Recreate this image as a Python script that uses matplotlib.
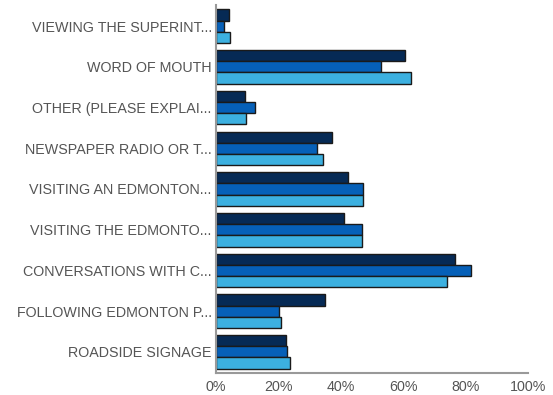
import matplotlib
matplotlib.use("Agg")
import matplotlib.pyplot as plt
import numpy as np

categories = [
    "VIEWING THE SUPERINT...",
    "WORD OF MOUTH",
    "OTHER (PLEASE EXPLAI...",
    "NEWSPAPER RADIO OR T...",
    "VISITING AN EDMONTON...",
    "VISITING THE EDMONTO...",
    "CONVERSATIONS WITH C...",
    "FOLLOWING EDMONTON P...",
    "ROADSIDE SIGNAGE",
]
series_dark = [4.1, 60.6, 9.3, 37.2, 42.3, 40.9, 76.6, 34.9, 22.3]
series_mid = [2.6, 52.9, 12.5, 32.5, 47.0, 46.9, 81.7, 20.3, 22.6]
series_light = [4.4, 62.4, 9.5, 34.3, 47.0, 46.9, 74.0, 20.8, 23.7]
xticks = [0, 20, 40, 60, 80, 100]
xticklabels = ["0%", "20%", "40%", "60%", "80%", "100%"]

colors = ["#062a55", "#0660b8", "#3cb0e0"]

fig = plt.figure(figsize=(5.53, 3.95), dpi=100)
ax = fig.add_axes([216/553, 1 - 373/395, (528-216)/553, (373-5)/395])

n = len(categories)
y = np.arange(n)
h = 0.275
for i, (vals, c) in enumerate(zip([series_dark, series_mid, series_light], colors)):
    ax.barh(y + (i - 1) * h, vals, height=h, color=c, edgecolor="#1a1a1a",
            linewidth=1.0)

ax.set_xlim(0, 100)
ax.set_ylim(n - 0.5 + 0.02, -0.5 - 0.02)
ax.set_yticks(y)
ax.set_yticklabels(categories, fontsize=10.3, color="#555555", family="Liberation Sans")
ax.set_xticks(xticks)
ax.set_xticklabels(xticklabels, fontsize=10.3, color="#555555", family="Liberation Sans")
ax.tick_params(axis="y", length=0, pad=3)
ax.tick_params(axis="x", length=0, pad=5)
for s in ["top", "right"]:
    ax.spines[s].set_visible(False)
for s in ["left", "bottom"]:
    ax.spines[s].set_color("#999999")
    ax.spines[s].set_linewidth(1.5)

fig.savefig("out.png", dpi=100)
